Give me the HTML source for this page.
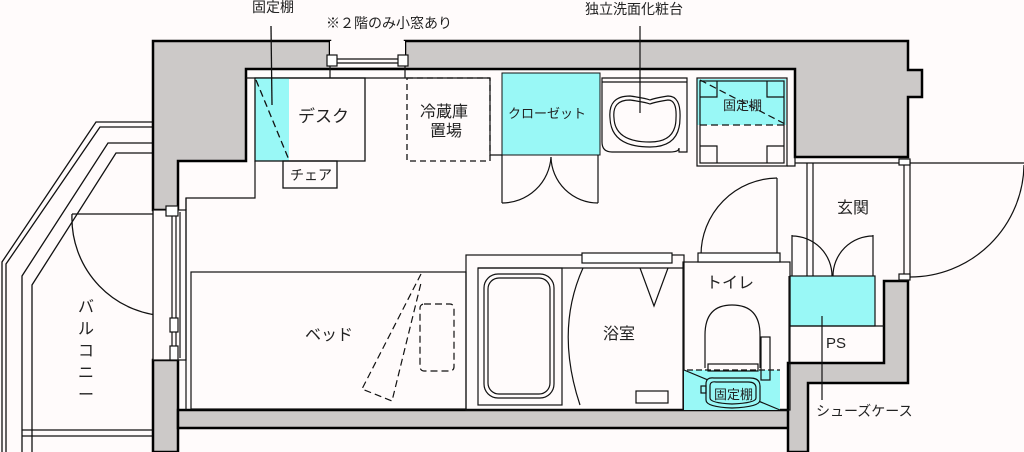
<!DOCTYPE html>
<html><head><meta charset="utf-8"><style>
html,body{margin:0;padding:0;background:#fffbfb;}
svg{display:block}
text{font-family:"Liberation Sans","Noto Sans CJK JP",sans-serif;fill:#222;}
</style></head><body>
<svg width="1024" height="452" viewBox="0 0 1024 452" xmlns="http://www.w3.org/2000/svg">
<rect width="1024" height="452" fill="#fffbfb"/>
<g stroke="#111" fill="none" stroke-width="1.3">
<!-- balcony rails -->
<polyline points="153,122 96,122 2,262 2,452"/>
<polyline points="153,127 100,127 6,264 6,452"/>
<polyline points="153,143 108,143 22,276 22,452"/>
<polyline points="153,153 116,153 32,285 32,452"/>
<line x1="22" y1="430" x2="153" y2="430"/>
<line x1="22" y1="436" x2="153" y2="436"/>
<line x1="72" y1="214" x2="170" y2="214"/>
<path d="M72,214 A98,98 0 0 0 170,316"/>
</g>
<!-- walls -->
<g fill="#ccc9c8" stroke="#000" stroke-width="2.5">
<path d="M153,41 L330,41 L330,57 L405,57 L405,41 L908,41 L908,70 L922,70 L922,97 L908,97 L908,157 L795,157 L795,69 L405,69 L405,69 L246,69 L246,161 L178,161 L178,210 L153,210 Z"/>
<path d="M153,360 L178,360 L178,452 L153,452 Z"/>
<path d="M178,410 L788,410 L788,452 L808,452 L808,383 L908,383 L908,281 L884,281 L884,363 L788,363 L788,410 L788,428 L178,428 Z"/>
</g>
<rect x="330" y="41" width="75" height="26" fill="#fffbfb"/>
<g stroke="#111" fill="none" stroke-width="1.2">
<rect x="327" y="55" width="10" height="11" fill="#fff"/>
<rect x="398" y="55" width="10" height="11" fill="#fff"/>
<line x1="337" y1="59" x2="398" y2="59"/><line x1="337" y1="63" x2="398" y2="63"/>
<line x1="330" y1="66" x2="330" y2="78"/><line x1="405" y1="66" x2="405" y2="78"/>
<!-- left window -->
<rect x="153" y="210" width="33" height="150" fill="#fffbfb"/>
<line x1="153" y1="210" x2="153" y2="360"/>
<line x1="172" y1="212" x2="172" y2="358"/><line x1="176" y1="212" x2="176" y2="358"/>
<line x1="180" y1="212" x2="180" y2="358"/><line x1="186" y1="198" x2="186" y2="410"/>
<rect x="170" y="318" width="8" height="14" fill="#fff"/>
<rect x="170" y="346" width="8" height="14" fill="#fff"/>
<rect x="166" y="206" width="12" height="10" fill="#fff"/>
<polyline points="186,210 186,198 255,198 255,161"/>
<line x1="246" y1="78" x2="490" y2="78"/>
</g>
<!-- desk -->
<rect x="255" y="78" width="34" height="83" fill="#99f8f6"/>
<g stroke="#111" fill="none" stroke-width="1.3">
<rect x="255" y="78" width="110" height="83"/>
<line x1="256" y1="80" x2="289" y2="160" stroke-dasharray="7,4"/>
<rect x="283" y="161" width="54" height="27"/>
<line x1="271" y1="26" x2="272" y2="105"/>
<rect x="407" y="78" width="83" height="83" stroke-dasharray="6,4"/>
</g>
<!-- closet -->
<rect x="502" y="73" width="98" height="82" fill="#99f8f6" stroke="#111" stroke-width="1"/>
<g stroke="#111" fill="none" stroke-width="1.2">
<polyline points="490,78 490,155 502,155"/>
<line x1="502" y1="155" x2="502" y2="203"/><line x1="598" y1="155" x2="598" y2="203"/>
<path d="M551,157 A49,49 0 0 1 502,203"/>
<path d="M551,157 A47,47 0 0 0 598,203"/>
<!-- sink -->
<path d="M602,78 L687,78 L687,152 L679,152 L679,148 Q679,152 670,152 L612,152 Q602,152 602,142 Z"/>
<line x1="602" y1="82" x2="687" y2="82"/>
<path d="M610,118 Q608,96 630,96 Q645,98 650,100 Q655,98 668,96 Q681,96 680,118 Q680,147 650,147 Q611,147 610,118 Z"/>
<path d="M614,118 Q612,100 630,100 Q645,102 650,104 Q655,102 668,100 Q677,100 676,118 Q676,142 650,142 Q615,142 614,118 Z"/>
<line x1="640" y1="26" x2="640" y2="113"/>
</g>
<!-- fixed shelf -->
<rect x="697" y="79" width="89" height="46" fill="#99f8f6"/>
<g stroke="#111" fill="none" stroke-width="1.2">
<rect x="697" y="78" width="90" height="88"/>
<rect x="700" y="81" width="84" height="82"/>
<line x1="700" y1="125" x2="784" y2="125" stroke-dasharray="7,4"/>
<line x1="700" y1="80" x2="787" y2="125" stroke-dasharray="7,4"/>
<polyline points="700,97 717,97 717,81"/><polyline points="767,81 767,97 784,97"/>
<polyline points="700,146 717,146 717,163"/><polyline points="767,163 767,146 784,146"/>
<polyline points="787,166 795,166 795,157"/>
<line x1="795" y1="163" x2="908" y2="163"/>
<!-- genkan -->
<line x1="807" y1="163" x2="807" y2="276"/><line x1="813" y1="163" x2="813" y2="276"/>
<line x1="904" y1="160" x2="904" y2="278"/><line x1="910" y1="160" x2="910" y2="278"/>
<rect x="899" y="159" width="11" height="6" fill="#fff"/><rect x="899" y="274" width="11" height="6" fill="#fff"/>
<line x1="910" y1="163" x2="1024" y2="163"/>
<path d="M1024,165 A114,114 0 0 1 910,277"/>
<line x1="777" y1="178" x2="777" y2="255"/>
<path d="M777,178 A77,77 0 0 0 701,255"/>
<line x1="792" y1="235" x2="792" y2="276"/><line x1="873" y1="235" x2="873" y2="276"/>
<path d="M792,236 A40,40 0 0 1 832,276"/>
<path d="M873,236 A40,40 0 0 0 833,276"/>
</g>
<rect x="790" y="276" width="85" height="50" fill="#99f8f6" stroke="#111" stroke-width="1.2"/>
<g stroke="#111" fill="none" stroke-width="1.2">
<polyline points="789,276 789,362"/>
<line x1="789" y1="326" x2="884" y2="326"/>
<line x1="822" y1="316" x2="822" y2="400"/>
<!-- bath -->
<rect x="466" y="255" width="218" height="155"/>
<line x1="478" y1="268" x2="684" y2="268"/>
<rect x="582" y="253" width="90" height="10" fill="#fff"/>
<rect x="478" y="268" width="84" height="137"/>
<rect x="484" y="274" width="70" height="124" rx="14"/>
<rect x="488" y="278" width="62" height="116" rx="11"/>
<path d="M583,268 Q555,330 580,405"/>
<polyline points="640,268 654,306 668,268"/>
<rect x="636" y="391" width="32" height="12"/>
<!-- toilet -->
<rect x="683" y="262" width="107" height="148"/>
<rect x="698" y="253" width="82" height="9" fill="#fff"/>
</g>
<rect x="684" y="370" width="96" height="40" fill="#99f8f6"/>
<g stroke="#111" fill="none" stroke-width="1.2">
<path d="M705,368 L705,335 Q705,305 732,305 Q760,305 760,335 L760,368"/>
<rect x="708" y="364" width="50" height="7"/>
<line x1="687" y1="370" x2="780" y2="370" stroke-dasharray="6,3"/>
<rect x="761" y="337" width="9" height="43"/>
<line x1="684" y1="370" x2="780" y2="410"/>
<path d="M706,384 Q706,377 714,378 L750,378 Q760,378 760,386 L760,400 Q760,407 732,408 Q706,407 706,400 Z" fill="#99f8f6"/>
<path d="M710,386 Q710,381 716,382 L748,382 Q756,382 756,388 L756,398 Q756,403 732,404 Q710,403 710,398 Z"/>
<rect x="701" y="386" width="5" height="7"/>
<!-- bed -->
<rect x="191" y="272" width="275" height="137"/>
<polyline points="421,274 362,389 392,401 421,283" stroke-dasharray="7,4"/>
<rect x="420" y="304" width="34" height="67" rx="4" stroke-dasharray="7,4"/>
</g>
<g font-size="14">
<text x="252" y="12">固定棚</text>
<text x="326" y="28">※２階のみ小窓あり</text>
<text x="585" y="14">独立洗面化粧台</text>
<text x="298" y="122" font-size="17">デスク</text>
<text x="290" y="180">チェア</text>
<text x="420" y="117" font-size="16">冷蔵庫</text>
<text x="430" y="136" font-size="16">置場</text>
<text x="508" y="118" font-size="13">クローゼット</text>
<text x="723" y="110" font-size="13">固定棚</text>
<text x="837" y="213" font-size="16">玄関</text>
<text x="706" y="288" font-size="16">トイレ</text>
<text x="603" y="339" font-size="16">浴室</text>
<text x="305" y="340" font-size="16">ベッド</text>
<text x="714" y="399" font-size="13">固定棚</text>
<text x="826" y="348" font-size="15">PS</text>
<text x="816" y="416">シューズケース</text>
</g>
<g font-size="16">
<text x="78" y="312">バ</text><text x="78" y="334">ル</text><text x="78" y="356">コ</text><text x="78" y="378">ニ</text><text x="78" y="400">ー</text>
</g>
</svg>
</body></html>
